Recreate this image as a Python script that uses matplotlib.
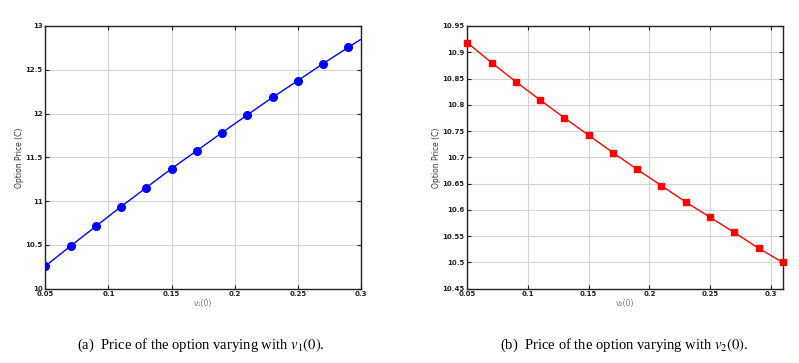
import matplotlib
matplotlib.use("Agg")
import matplotlib.pyplot as plt
import numpy as np

x_vals = [0.05, 0.07, 0.09, 0.11, 0.13, 0.15, 0.17, 0.19, 0.21, 0.23, 0.25, 0.27, 0.29, 0.31]
price_v1 = [10.258, 10.487, 10.712, 10.937, 11.154, 11.371, 11.576, 11.782, 11.984, 12.185, 12.376, 12.570, 12.756, 12.940]
price_v2 = [10.918, 10.880, 10.844, 10.809, 10.775, 10.742, 10.709, 10.677, 10.646, 10.615, 10.586, 10.557, 10.527, 10.500]

x_ticks = [0.05, 0.1, 0.15, 0.2, 0.25, 0.3]
x_tick_labels = ["0.05", "0.1", "0.15", "0.2", "0.25", "0.3"]
y1_ticks = [10, 10.5, 11, 11.5, 12, 12.5, 13]
y1_tick_labels = ["10", "10.5", "11", "11.5", "12", "12.5", "13"]
y2_ticks = [10.45, 10.5, 10.55, 10.6, 10.65, 10.7, 10.75, 10.8, 10.85, 10.9, 10.95]
y2_tick_labels = ["10.45", "10.5", "10.55", "10.6", "10.65", "10.7", "10.75", "10.8", "10.85", "10.9", "10.95"]

ylabel = "Option Price (C)"
xlabel1 = "v\u2081(0)"
xlabel2 = "v\u2082(0)"
caption1 = "(a)  Price of the option varying with $v_1(0)$."
caption2 = "(b)  Price of the option varying with $v_2(0)$."

plt.rcParams['mathtext.fontset'] = 'stix'

fig = plt.figure(figsize=(7.99, 3.63), dpi=100)
ax1 = fig.add_axes([0.0567, 0.2047, 0.395, 0.7237])
ax2 = fig.add_axes([0.585, 0.2047, 0.3947, 0.7237])

def style(ax, yticks, yticklabels, ylim, xlim, xlabel):
    ax.set_xlim(*xlim)
    ax.set_ylim(*ylim)
    ax.set_xticks(x_ticks)
    ax.set_xticklabels(x_tick_labels)
    ax.set_yticks(yticks)
    ax.set_yticklabels(yticklabels)
    ax.grid(True, color="#d4d4d4", linewidth=0.8)
    ax.set_axisbelow(True)
    ax.tick_params(direction="in", top=True, right=True, length=3, width=0.8,
                   labelsize=5, pad=2, colors="#222222")
    for lab in ax.get_xticklabels() + ax.get_yticklabels():
        lab.set_fontweight("bold")
    for s in ax.spines.values():
        s.set_color("#222222")
        s.set_linewidth(1.0)
    ax.set_ylabel(ylabel, fontsize=5.5, color="#333333", labelpad=1)
    ax.set_xlabel(xlabel, fontsize=5.5, color="#777777", labelpad=1)

ax1.plot(x_vals, price_v1, color="#0000ff", linewidth=1.0, marker="o",
         markersize=5.5, clip_on=True)
style(ax1, y1_ticks, y1_tick_labels, (10, 13), (0.05, 0.3), xlabel1)

ax2.plot(x_vals, price_v2, color="#ff0000", linewidth=1.0, marker="s",
         markersize=4, clip_on=False, zorder=3)
style(ax2, y2_ticks, y2_tick_labels, (10.45, 10.95), (0.05, 0.31), xlabel2)

fig.text(0.251, 0.05, caption1, ha="center", va="center", fontsize=10.5,
         family="Liberation Serif")
fig.text(0.781, 0.05, caption2, ha="center", va="center", fontsize=10.5,
         family="Liberation Serif")

fig.savefig("out.png", dpi=100)
